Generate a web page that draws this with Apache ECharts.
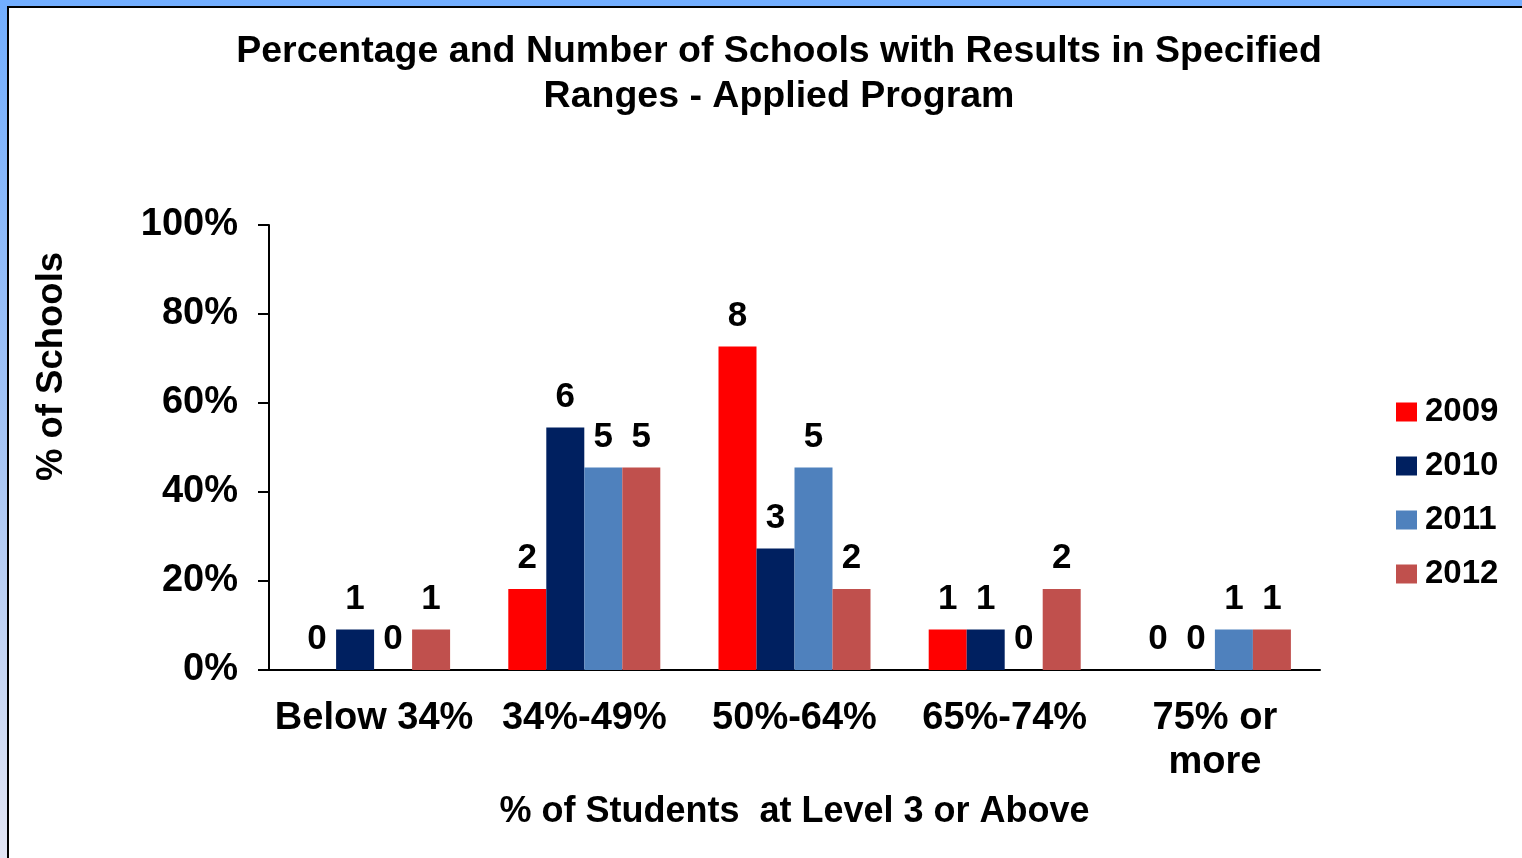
<!DOCTYPE html>
<html>
<head>
<meta charset="utf-8">
<title>Percentage and Number of Schools - Applied Program</title>
<script src="https://cdn.jsdelivr.net/npm/echarts@6/dist/echarts.min.js"></script>
<style>
  html, body { margin: 0; padding: 0; width: 1522px; height: 858px; overflow: hidden; }
  body { background: linear-gradient(to bottom, #72aeff 0%, #a9c6f4 55%, #e2e5f4 100%); position: relative; }
  .frame {
    position: absolute; left: 7px; top: 6px; right: 0; bottom: 0;
    background: #fff; border-top: 2px solid #000; border-left: 2px solid #000;
  }
  #chart { position: absolute; left: 0; top: 0; width: 1522px; height: 858px; }
</style>
</head>
<body>
<div class="frame"></div>
<div id="chart"></div>
<script>
const categories = ['Below 34%', '34%-49%', '50%-64%', '65%-74%', '75% or\nmore']
const years = ['2009', '2010', '2011', '2012']
const colors = ['#ff0000', '#002060', '#4f81bd', '#c0504d']

// % of schools (bar heights)
const pct2009 = [0, 18.2, 72.7, 9.1, 0]
const pct2010 = [9.1, 54.5, 27.3, 9.1, 0]
const pct2011 = [0, 45.5, 45.5, 0, 9.1]
const pct2012 = [9.1, 45.5, 18.2, 18.2, 9.1]

// number of schools (data labels)
const count2009 = [0, 2, 8, 1, 0]
const count2010 = [1, 6, 3, 1, 0]
const count2011 = [0, 5, 5, 0, 1]
const count2012 = [1, 5, 2, 2, 1]

const yTicks = [0, 20, 40, 60, 80, 100]

const pcts = [pct2009, pct2010, pct2011, pct2012]
const counts = [count2009, count2010, count2011, count2012]

const font = "'Liberation Sans', Arial, sans-serif"

const chart = echarts.init(document.getElementById('chart'))

chart.setOption({
  backgroundColor: 'transparent',
  animation: false,
  title: {
    text: 'Percentage and Number of Schools with Results in Specified\nRanges - Applied Program',
    left: 774,
    top: 24,
    textAlign: 'center',
    textStyle: { color: '#000', fontSize: 37.5, fontWeight: 'bold', fontFamily: font, lineHeight: 45 },
  },
  legend: {
    orient: 'vertical',
    left: 1391,
    top: 390,
    itemWidth: 21,
    itemHeight: 19,
    itemGap: 20,
    icon: 'rect',
    data: years,
    textStyle: { color: '#000', fontSize: 33, fontWeight: 'bold', fontFamily: font, lineHeight: 34, padding: [0, 0, 0, 3] },
  },
  grid: { left: 269, right: 202, top: 225, bottom: 188, outerBoundsMode: 'none' },
  xAxis: {
    type: 'category',
    data: categories,
    name: '% of Students  at Level 3 or Above',
    nameLocation: 'middle',
    nameGap: 124,
    nameTextStyle: { color: '#000', fontSize: 36, fontWeight: 'bold', fontFamily: font },
    axisLine: { lineStyle: { color: '#000', width: 2 } },
    axisTick: { length: 9, lineStyle: { color: '#000', width: 2 } },
    axisLabel: { color: '#000', fontSize: 38, fontWeight: 'bold', fontFamily: font, margin: 27, lineHeight: 44, interval: 0 },
  },
  yAxis: {
    type: 'value',
    min: yTicks[0],
    max: yTicks[yTicks.length - 1],
    interval: yTicks[1] - yTicks[0],
    name: '% of Schools',
    nameLocation: 'middle',
    nameGap: 199,
    nameTextStyle: { color: '#000', fontSize: 36.5, fontWeight: 'bold', fontFamily: font, padding: [0, 0, 0, 162] },
    axisLine: { show: true, lineStyle: { color: '#000', width: 2 } },
    axisTick: { show: true, length: 11, lineStyle: { color: '#000', width: 2 } },
    splitLine: { show: false },
    axisLabel: { color: '#000', fontSize: 38, fontWeight: 'bold', fontFamily: font, margin: 31, formatter: '{value}%' },
  },
  series: years.map((y, i) => ({
    name: y,
    type: 'bar',
    data: pcts[i],
    barWidth: 38,
    barGap: '0%',
    itemStyle: { color: colors[i] },
    label: {
      show: true,
      position: 'top',
      distance: 13,
      color: '#000',
      fontSize: 35,
      fontWeight: 'bold',
      fontFamily: font,
      formatter: (p) => String(counts[i][p.dataIndex]),
    },
  })),
})
</script>
</body>
</html>
